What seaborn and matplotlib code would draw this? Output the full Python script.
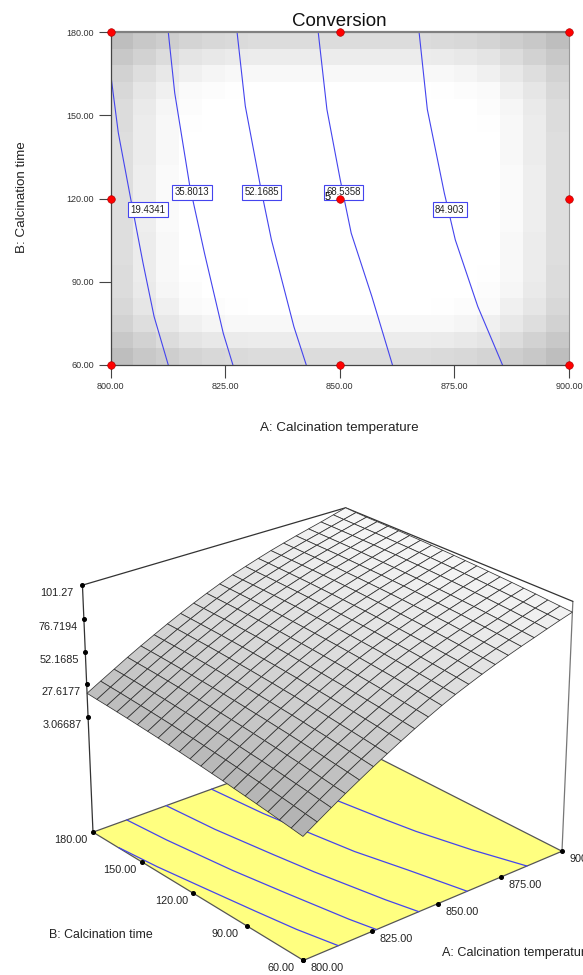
import numpy as np
import matplotlib
matplotlib.use("Agg")
import matplotlib.pyplot as plt
import pandas as pd
import seaborn as sns
from mpl_toolkits.mplot3d import proj3d

W, H = 583, 975

# top panel data
temp_ticks = [800, 825, 850, 875, 900]
time_ticks = [60, 90, 120, 150, 180]
design_temp = [800, 850, 900, 800, 900, 800, 850, 900]
design_time = [60, 60, 60, 120, 120, 180, 180, 180]
center_temp = [850]
center_time = [120]

levels = ["19.4341", "35.8013", "52.1685", "68.5358", "84.903"]
level_temp = [
    [800.1, 801.7, 804.3, 807.1, 809.5, 812.6],
    [812.6, 814.0, 817.3, 820.5, 824.6, 826.7],
    [827.6, 829.4, 832.7, 835.1, 840.0, 842.7],
    [845.3, 847.2, 850.1, 852.5, 857.0, 861.5],
    [867.3, 869.1, 872.8, 875.2, 880.1, 885.5],
]
level_time = [
    [164.1, 143.7, 120.8, 96.7, 77.5, 60],
    [180, 158.1, 124.4, 100.3, 71.4, 60],
    [180, 153.3, 124.4, 105.1, 73.8, 60],
    [180, 152.1, 126.8, 107.5, 84.7, 60],
    [180, 152.1, 122.0, 105.1, 81.1, 60],
]
label_temp = [808.2, 817.8, 833.0, 850.9, 874.0]
label_time = [115.9, 122.2, 122.2, 122.2, 116.0]

# grey background, top left quarter of the cells
shade_corner = [
    [190, 200, 206, 212, 216, 218, 220, 220, 220, 220],
    [200, 210, 220, 228, 232, 235, 236, 236, 236, 236],
    [210, 222, 232, 240, 245, 248, 248, 248, 248, 248],
    [216, 230, 240, 250, 252, 254, 255, 255, 255, 255],
    [220, 234, 246, 252, 255, 255, 255, 255, 255, 255],
    [220, 236, 248, 254, 255, 255, 255, 255, 255, 255],
    [222, 236, 248, 255, 255, 255, 255, 255, 255, 255],
    [222, 236, 248, 255, 255, 255, 255, 255, 255, 255],
    [222, 238, 250, 255, 255, 255, 255, 255, 255, 255],
    [222, 238, 250, 255, 255, 255, 255, 255, 255, 255],
]

# bottom panel data, rows run from 60 to 180 in time, columns from 800 to 900 in temperature
mesh_temp = [800, 805, 810, 815, 820, 825, 830, 835, 840, 845, 850,
             855, 860, 865, 870, 875, 880, 885, 890, 895, 900]
mesh_time = [60, 66, 72, 78, 84, 90, 96, 102, 108, 114, 120,
             126, 132, 138, 144, 150, 156, 162, 168, 174, 180]
mesh_conv = [
    [3.1, 9.5, 15.8, 22.0, 27.9, 33.7, 39.2, 44.6, 49.8, 54.7, 59.4, 63.8, 67.7, 71.5, 75.1, 78.4, 81.6, 84.6, 87.7, 90.7, 93.5],
    [4.4, 10.7, 17.0, 23.1, 29.1, 34.8, 40.3, 45.7, 50.8, 55.7, 60.4, 64.7, 68.7, 72.4, 76.0, 79.3, 82.4, 85.4, 88.5, 91.4, 94.2],
    [5.6, 11.9, 18.2, 24.3, 30.2, 35.9, 41.4, 46.7, 51.8, 56.7, 61.4, 65.7, 69.6, 73.3, 76.8, 80.1, 83.2, 86.2, 89.2, 92.1, 94.9],
    [6.8, 13.1, 19.3, 25.4, 31.3, 37.0, 42.4, 47.7, 52.8, 57.7, 62.3, 66.6, 70.4, 74.1, 77.6, 80.9, 84.0, 86.9, 90.0, 92.8, 95.6],
    [8.0, 14.2, 20.4, 26.5, 32.3, 38.0, 43.4, 48.7, 53.7, 58.6, 63.2, 67.4, 71.3, 74.9, 78.4, 81.6, 84.7, 87.6, 90.6, 93.5, 96.2],
    [9.1, 15.3, 21.5, 27.5, 33.3, 38.9, 44.4, 49.6, 54.6, 59.5, 64.0, 68.2, 72.1, 75.7, 79.1, 82.4, 85.4, 88.3, 91.3, 94.1, 96.8],
    [10.1, 16.3, 22.5, 28.5, 34.3, 39.9, 45.3, 50.5, 55.5, 60.3, 64.8, 69.0, 72.8, 76.4, 79.8, 83.0, 86.0, 88.9, 91.8, 94.6, 97.3],
    [11.2, 17.3, 23.4, 29.4, 35.2, 40.8, 46.1, 51.3, 56.3, 61.1, 65.6, 69.7, 73.5, 77.1, 80.5, 83.7, 86.6, 89.5, 92.4, 95.2, 97.8],
    [12.1, 18.3, 24.4, 30.3, 36.1, 41.6, 47.0, 52.1, 57.1, 61.8, 66.3, 70.4, 74.2, 77.7, 81.1, 84.2, 87.2, 90.0, 92.9, 95.6, 98.3],
    [13.1, 19.2, 25.3, 31.2, 36.9, 42.4, 47.7, 52.9, 57.8, 62.5, 67.0, 71.1, 74.8, 78.3, 81.7, 84.8, 87.7, 90.5, 93.4, 96.1, 98.7],
    [14.0, 20.1, 26.1, 32.0, 37.7, 43.2, 48.5, 53.6, 58.5, 63.2, 67.6, 71.7, 75.4, 78.9, 82.2, 85.3, 88.2, 91.0, 93.8, 96.5, 99.1],
    [14.9, 21.0, 26.9, 32.8, 38.5, 43.9, 49.2, 54.3, 59.2, 63.8, 68.2, 72.3, 75.9, 79.4, 82.7, 85.8, 88.6, 91.4, 94.2, 96.9, 99.4],
    [15.7, 21.7, 27.7, 33.5, 39.2, 44.6, 49.9, 54.9, 59.8, 64.4, 68.8, 72.8, 76.5, 79.9, 83.2, 86.2, 89.1, 91.8, 94.5, 97.2, 99.7],
    [16.5, 22.5, 28.4, 34.2, 39.9, 45.3, 50.5, 55.5, 60.4, 65.0, 69.3, 73.3, 76.9, 80.3, 83.6, 86.6, 89.4, 92.1, 94.9, 97.5, 100.0],
    [17.2, 23.2, 29.1, 34.9, 40.5, 45.9, 51.1, 56.1, 60.9, 65.5, 69.8, 73.8, 77.4, 80.7, 84.0, 86.9, 89.7, 92.4, 95.1, 97.7, 100.2],
    [17.9, 23.9, 29.8, 35.5, 41.1, 46.5, 51.7, 56.6, 61.4, 65.9, 70.2, 74.2, 77.8, 81.1, 84.3, 87.3, 90.0, 92.7, 95.4, 97.9, 100.4],
    [18.6, 24.5, 30.4, 36.1, 41.7, 47.0, 52.2, 57.1, 61.8, 66.4, 70.6, 74.6, 78.1, 81.4, 84.6, 87.5, 90.3, 92.9, 95.5, 98.1, 100.5],
    [19.2, 25.1, 30.9, 36.7, 42.2, 47.5, 52.6, 57.5, 62.3, 66.8, 71.0, 74.9, 78.4, 81.7, 84.8, 87.8, 90.5, 93.1, 95.7, 98.2, 100.6],
    [19.8, 25.7, 31.5, 37.2, 42.7, 47.9, 53.1, 57.9, 62.6, 67.1, 71.3, 75.2, 78.7, 81.9, 85.0, 87.9, 90.6, 93.2, 95.8, 98.3, 100.7],
    [20.3, 26.2, 32.0, 37.6, 43.1, 48.3, 53.5, 58.3, 63.0, 67.4, 71.6, 75.4, 78.9, 82.2, 85.2, 88.1, 90.8, 93.3, 95.9, 98.4, 100.9],
    [20.9, 26.7, 32.4, 38.1, 43.5, 48.7, 53.8, 58.6, 63.3, 67.7, 71.8, 75.7, 79.1, 82.3, 85.4, 88.2, 90.9, 93.4, 95.9, 98.6, 101.27],
]
conv_ticks = [3.06687, 27.6177, 52.1685, 76.7194, 101.27]
conv_labels = ["3.06687", "27.6177", "52.1685", "76.7194", "101.27"]
floor_conv = -87

sns.set_theme(style="white")
plt.rcParams["font.family"] = ["Liberation Sans", "DejaVu Sans"]
tick_grey = "#444444"
blue = "#4444ee"


def rect(x0, y0, x1, y1):
    # pixel box (y down) to figure fractions
    return [x0 / W, 1 - y1 / H, (x1 - x0) / W, (y1 - y0) / H]


fig = plt.figure(figsize=(W / 100, H / 100), dpi=100)

# %% contour panel
quarter = np.array(shade_corner)
shade = np.vstack([np.hstack([quarter, quarter[:, ::-1]]),
                   np.hstack([quarter[::-1], quarter[::-1, ::-1]])])
ax_bg = fig.add_axes(rect(110.5, 32, 569, 365))
sns.heatmap(shade, ax=ax_bg, cmap="gray", vmin=0, vmax=255, cbar=False,
            xticklabels=False, yticklabels=False)

ax = fig.add_axes(rect(110.5, 32, 569, 365))
ax.patch.set_alpha(0)
for temps, times in zip(level_temp, level_time):
    line = pd.DataFrame({"temp": temps, "time": times})
    sns.lineplot(data=line, x="temp", y="time", ax=ax, color=blue, lw=0.8,
                 sort=False, estimator=None)
for name, tx, ty in zip(levels, label_temp, label_time):
    ax.text(tx, ty, name, ha="center", va="center", fontsize=6.9, color="#222222",
            bbox=dict(boxstyle="square,pad=0.25", fc="white", ec=blue, lw=0.8))
sns.scatterplot(x=design_temp + center_temp, y=design_time + center_time, ax=ax,
                color="red", edgecolor="#aa0000", s=30, clip_on=False, zorder=5)
ax.text(847.4, 120.6, "5", ha="center", va="center", fontsize=8, color="black")
ax.set_xlim(800, 900)
ax.set_ylim(60, 180)
ax.set_xticks(temp_ticks)
ax.set_yticks(time_ticks)
ax.set_xticklabels([f"{v:.2f}" for v in temp_ticks])
ax.set_yticklabels([f"{v:.2f}" for v in time_ticks])
ax.tick_params(axis="both", length=9, width=0.8, color=tick_grey, labelcolor="#333333",
               labelsize=6.5, pad=3, bottom=True, left=True)
ax.set_xlabel("")
ax.set_ylabel("")
for side in ["left", "bottom"]:
    ax.spines[side].set_color("#444444")
    ax.spines[side].set_linewidth(0.9)
ax.spines["top"].set_color("#808080")
ax.spines["top"].set_linewidth(1.6)
ax.spines["right"].set_color("#999999")
ax.spines["right"].set_linewidth(0.8)
fig.text(339 / W, 1 - 21 / H, "Conversion", ha="center", va="center", fontsize=13.5, color="#111111")
fig.text(339 / W, 1 - 428 / H, "A: Calcination temperature", ha="center", va="center", fontsize=9.6, color="#222222")
fig.text(22 / W, 1 - 197 / H, "B: Calcination time", ha="center", va="center", rotation=90, fontsize=9.6, color="#222222")

# %% response surface panel
ax3 = fig.add_axes(rect(-85, 331, 715, 1131), projection="3d", computed_zorder=False)
ax3.set_proj_type("persp", focal_length=0.6)
ax3.view_init(elev=25, azim=-130)
ax3.set_box_aspect((1, 1, 0.805), zoom=0.672)
ax3.set_xlim(800, 900)
ax3.set_ylim(60, 180)
ax3.set_zlim(floor_conv, conv_ticks[-1])
ax3.set_axis_off()
ax3.patch.set_alpha(0)

floor_x, floor_y = np.meshgrid([800, 900], [60, 180])
ax3.plot_surface(floor_x, floor_y, np.full(floor_x.shape, floor_conv), color="#ffff80",
                 shade=False, edgecolor="none", zorder=1)
ax3.plot([800, 800, 900, 900, 800], [180, 60, 60, 180, 180], [floor_conv] * 5,
         color="#555555", lw=0.9, zorder=2)
for temps, times in zip(level_temp, level_time):
    ax3.plot(temps, times, [floor_conv] * len(temps), color=blue, lw=0.9, zorder=2)

# box edges behind the surface
box_line = dict(color="#333333", lw=0.9, zorder=2)
ax3.plot([800, 800], [180, 180], [floor_conv, conv_ticks[-1]], **box_line)
ax3.plot([900, 900], [60, 60], [floor_conv, conv_ticks[-1]], color="#777777", lw=0.9, zorder=2)
ax3.plot([800, 900, 900], [180, 180, 60], [conv_ticks[-1]] * 3, **box_line)

mesh_x, mesh_y = np.meshgrid(mesh_temp, mesh_time)
mesh_z = np.array(mesh_conv)
cell_z = (mesh_z[:-1, :-1] + mesh_z[1:, 1:]) / 2
greys = plt.get_cmap("gray")(0.68 + 0.29 * cell_z / conv_ticks[-1])
ax3.plot_surface(mesh_x, mesh_y, mesh_z, facecolors=greys, shade=False, rstride=1, cstride=1,
                 edgecolor="#333333", linewidth=0.55, zorder=3)


def tick3d(tx, ty, tz, text, dx, dy):
    ax3.plot([tx], [ty], [tz], "o", color="black", ms=2.6, zorder=4)
    px, py, _ = proj3d.proj_transform(tx, ty, tz, ax3.get_proj())
    ax3.annotate(text, (px, py), xytext=(dx, -dy), textcoords="offset pixels", ha="center",
                 va="center", fontsize=7.8, color="#222222", annotation_clip=False)


for v, s in zip(conv_ticks, conv_labels):
    tick3d(800, 180, v, s, -26, 8)
for v in time_ticks:
    tick3d(800, v, floor_conv, f"{v:.2f}", -22, 8)
for v in temp_ticks:
    tick3d(v, 60, floor_conv, f"{v:.2f}", 24, 8)

fig.text(100.7 / W, 1 - 935 / H, "B: Calcination time", ha="center", va="center", fontsize=8.9, color="#222222")
fig.text(442 / W, 1 - 953 / H, "A: Calcination temperature", ha="left", va="center", fontsize=9.1, color="#222222")

fig.savefig("out.png", dpi=100)
